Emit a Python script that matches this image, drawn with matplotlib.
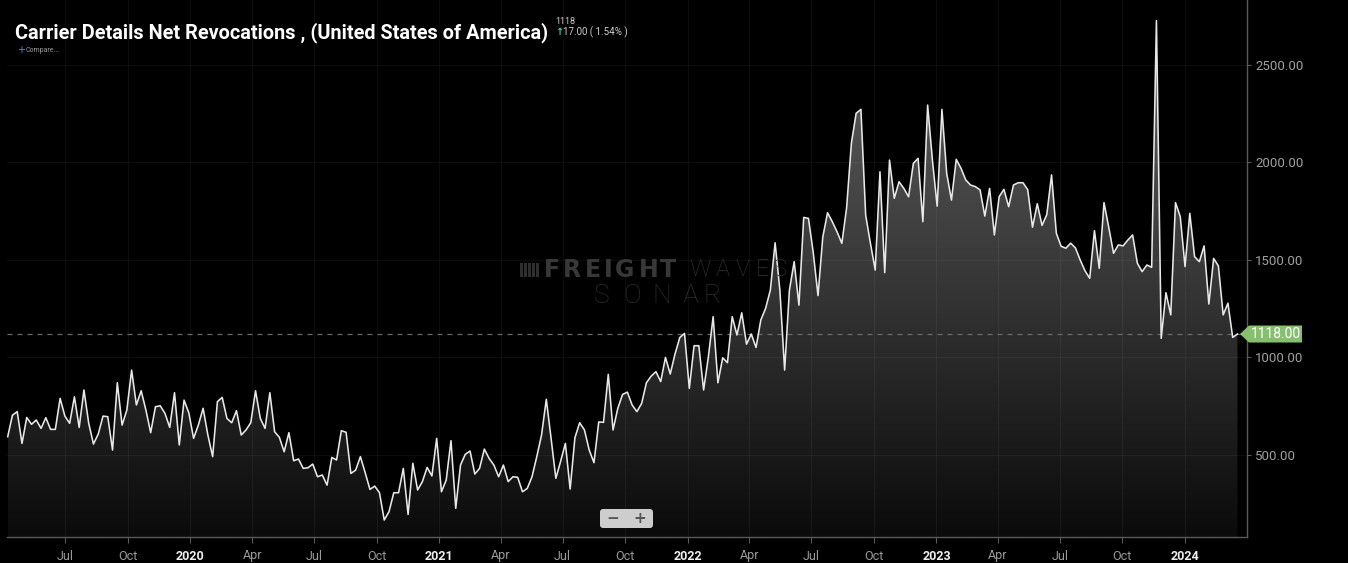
import numpy as np
import pandas as pd
import matplotlib
matplotlib.use("Agg")
import matplotlib.pyplot as plt
import matplotlib.dates as mdates
from matplotlib.colors import LinearSegmentedColormap
from matplotlib.patches import Polygon, FancyBboxPatch, Rectangle
from matplotlib.transforms import IdentityTransform

# weekly net revocations, split by calendar year
rev_2019 = [591, 702, 720, 557, 690, 655, 677, 634, 689, 629,
            629, 788, 697, 660, 796, 639, 831, 660, 554, 605,
            697, 694, 523, 868, 651, 728, 933, 754, 827, 728,
            612, 745, 750, 711, 639, 817, 549, 779, 714]
rev_2020 = [583, 651, 737, 600, 489, 771, 793, 685, 663, 725,
            600, 626, 663, 827, 685, 634, 817, 617, 588, 514,
            612, 468, 477, 429, 432, 451, 386, 395, 343, 485,
            472, 622, 614, 403, 420, 489, 407, 321, 338, 304,
            164, 207, 304, 304, 429, 193, 455, 318, 361, 434,
            390, 583]
rev_2021 = [309, 369, 571, 224, 446, 501, 518, 400, 429, 528,
            480, 446, 386, 446, 361, 386, 383, 309, 326, 386,
            489, 600, 783, 583, 378, 465, 557, 323, 586, 663,
            626, 523, 458, 667, 665, 911, 626, 737, 808, 820,
            754, 720, 762, 868, 902, 925, 874, 998, 913, 1015,
            1100, 1121]
rev_2022 = [839, 1058, 1058, 831, 1001, 1207, 868, 996, 971, 1207,
            1113, 1227, 1066, 1118, 1049, 1190, 1249, 1343, 1586, 1343,
            933, 1343, 1489, 1266, 1716, 1711, 1536, 1315, 1615, 1740,
            1694, 1642, 1583, 1765, 2096, 2250, 2270, 1728, 1583, 1446,
            1950, 1433, 2010, 1814, 1899, 1865, 1822, 1993, 2019, 1694,
            2292, 2010]
rev_2023 = [1774, 2270, 1942, 1805, 2014, 1968, 1908, 1882, 1874, 1857,
            1723, 1865, 1626, 1822, 1860, 1771, 1882, 1894, 1894, 1858,
            1666, 1786, 1675, 1731, 1934, 1635, 1568, 1558, 1584, 1560,
            1498, 1443, 1404, 1648, 1455, 1792, 1665, 1532, 1575, 1570,
            1600, 1626, 1481, 1438, 1472, 1460, 2725, 1096, 1330, 1216,
            1792, 1720]
rev_2024 = [1464, 1737, 1515, 1489, 1570, 1272, 1506, 1467, 1216, 1276,
            1101, 1118]
first_week = "2019-04-08"

y_ticks = [500, 1000, 1500, 2000, 2500]
x_tick_dates = pd.date_range("2019-07-01", "2024-01-01", freq="QS")
month_names = {1: None, 4: "Apr", 7: "Jul", 10: "Oct"}

title = "Carrier Details Net Revocations , (United States of America)"
last_value = 1118
change = 17.00
change_pct = 1.54

values = np.array(rev_2019 + rev_2020 + rev_2021 + rev_2022 + rev_2023 + rev_2024, dtype=float)
dates = pd.date_range(first_week, periods=len(values), freq="7D")

W, H = 1348, 563
fig = plt.figure(figsize=(W / 100, H / 100), dpi=100, facecolor="black")
ax = fig.add_axes([7 / W, 26 / H, 1240 / W, 537 / H])
ax.set_facecolor("black")

ymin, ymax = 77, 2831
xlo, xhi = pd.Timestamp("2019-04-07"), pd.Timestamp("2024-04-01")

# gradient fill under the line
xnum = mdates.date2num(dates)
verts = [(xnum[0], ymin)] + list(zip(xnum, values)) + [(xnum[-1], ymin)]
clip = Polygon(verts, closed=True, facecolor="none", edgecolor="none")
ax.add_patch(clip)
cmap = LinearSegmentedColormap.from_list("fill", ["#0b0b0b", "#666666"])
grad = np.linspace(0, 1, 256).reshape(-1, 1)
im = ax.imshow(grad, extent=[xnum[0], xnum[-1], ymin, ymax], origin="lower",
               aspect="auto", cmap=cmap, zorder=1, interpolation="bilinear")
im.set_clip_path(clip)

for d in x_tick_dates:
    ax.axvline(d, color="white", alpha=0.05, lw=0.8, zorder=2)
for v in y_ticks:
    ax.axhline(v, color="white", alpha=0.05, lw=0.8, zorder=2)

ax.plot(dates, values, color="#e8e8e8", lw=1.15, zorder=3)
ax.axhline(last_value, color="#62725a", lw=0.9, ls=(0, (4, 4)), zorder=2.5)

ax.set_xlim(xlo, xhi)
ax.set_ylim(ymin, ymax)

for side in ["top", "left"]:
    ax.spines[side].set_visible(False)
for side in ["bottom", "right"]:
    ax.spines[side].set_color("#5a5a5a")
    ax.spines[side].set_linewidth(1)

ax.set_xticks(x_tick_dates)
labels = [month_names[d.month] or str(d.year) for d in x_tick_dates]
ax.set_xticklabels(labels)
ax.tick_params(axis="x", length=4, color="#5a5a5a", pad=5, labelsize=9)
for d, lab in zip(x_tick_dates, ax.get_xticklabels()):
    lab.set_family("Roboto")
    if d.month == 1:
        lab.set_color("#eeeeee")
        lab.set_fontweight("bold")
    else:
        lab.set_color("#9a9a9a")

ax.yaxis.tick_right()
ax.set_yticks(y_ticks)
ax.set_yticklabels([f"{v:.2f}" for v in y_ticks])
ax.tick_params(axis="y", length=3, color="#5a5a5a", pad=3, labelsize=9.5,
               labelcolor="#a0a0a0")
for lab in ax.get_yticklabels():
    lab.set_family("Roboto")

# last value tag on the right axis
ypix = ax.transData.transform((xnum[-1], last_value))[1]
tag = Polygon([(1240, ypix), (1249, ypix + 8.5), (1302, ypix + 8.5),
               (1302, ypix - 8.5), (1249, ypix - 8.5)],
              closed=True, transform=IdentityTransform(),
              facecolor="#86c06e", edgecolor="none", zorder=5)
fig.add_artist(tag)
fig.text(1276 / W, ypix / H, f"{last_value:.2f}", color="white", fontsize=10,
         family="Roboto", ha="center", va="center", zorder=6)

# title block
renderer = fig.canvas.get_renderer()
t = fig.text(15 / W, 1 - 33 / H, title, color="white", fontsize=14.3,
             fontweight="bold", family="Roboto", ha="left", va="center")
bb = t.get_window_extent(renderer)
x0 = bb.x1 + 7
fig.text(x0 / W, 1 - 21 / H, f"{last_value}", color="#cfcfcf", fontsize=6.5,
         family="Roboto", ha="left", va="center")
fig.text(x0 / W, 1 - 32 / H, "\u2191", color="#3ecf8e", fontsize=7,
         family="DejaVu Sans", ha="left", va="center", fontweight="bold")
fig.text((x0 + 8) / W, 1 - 32 / H, f"{change:.2f} ( {change_pct:.2f}% )",
         color="#cfcfcf", fontsize=7, family="Roboto", ha="left", va="center")
fig.text(17 / W, 1 - 50 / H, "+", color="#4a8fe0", fontsize=7,
         family="DejaVu Sans", ha="left", va="center")
fig.text(26 / W, 1 - 50 / H, "Compare...", color="#9a9a9a", fontsize=5,
         family="Roboto", ha="left", va="center")

# watermark, letters spread out like the logo
for i in range(5):
    fig.add_artist(Rectangle((520 + i * 4, H - 277), 2.5, 14,
                             transform=IdentityTransform(), facecolor="#2e2e2e",
                             edgecolor="none", zorder=2))
for ch, cx in zip("FREIGHT", [552, 572, 593, 608, 625, 649, 668]):
    fig.text(cx / W, 1 - 270 / H, ch, color="#383838", fontsize=17,
             fontweight="bold", family="DejaVu Sans", ha="center", va="center", zorder=2)
for ch, cx in zip("WAVES", [700, 723, 743, 762, 780]):
    fig.text(cx / W, 1 - 270 / H, ch, color="#333333", fontsize=17,
             fontweight="light", family="Roboto", ha="center", va="center", zorder=2)
for ch, cx in zip("SONAR", [602, 632, 662, 690, 712]):
    fig.text(cx / W, 1 - 296 / H, ch, color="#2e2e2e", fontsize=19,
             fontweight="light", family="Roboto", ha="center", va="center", zorder=2)

# zoom control
fig.add_artist(FancyBboxPatch((600, H - 528), 53, 19,
                              boxstyle="round,pad=0,rounding_size=3",
                              transform=IdentityTransform(), facecolor="#cdcdcd",
                              edgecolor="none", zorder=6))
fig.add_artist(Rectangle((626.5, H - 526), 0.8, 15, transform=IdentityTransform(),
                         facecolor="#aaaaaa", edgecolor="none", zorder=7))
fig.text(613 / W, 1 - 518.5 / H, "\u2212", color="#555555", fontsize=11,
         fontweight="bold", family="DejaVu Sans", ha="center", va="center", zorder=7)
fig.text(640 / W, 1 - 518.5 / H, "+", color="#555555", fontsize=11,
         fontweight="bold", family="DejaVu Sans", ha="center", va="center", zorder=7)

fig.savefig("out.png", dpi=100, facecolor="black")
